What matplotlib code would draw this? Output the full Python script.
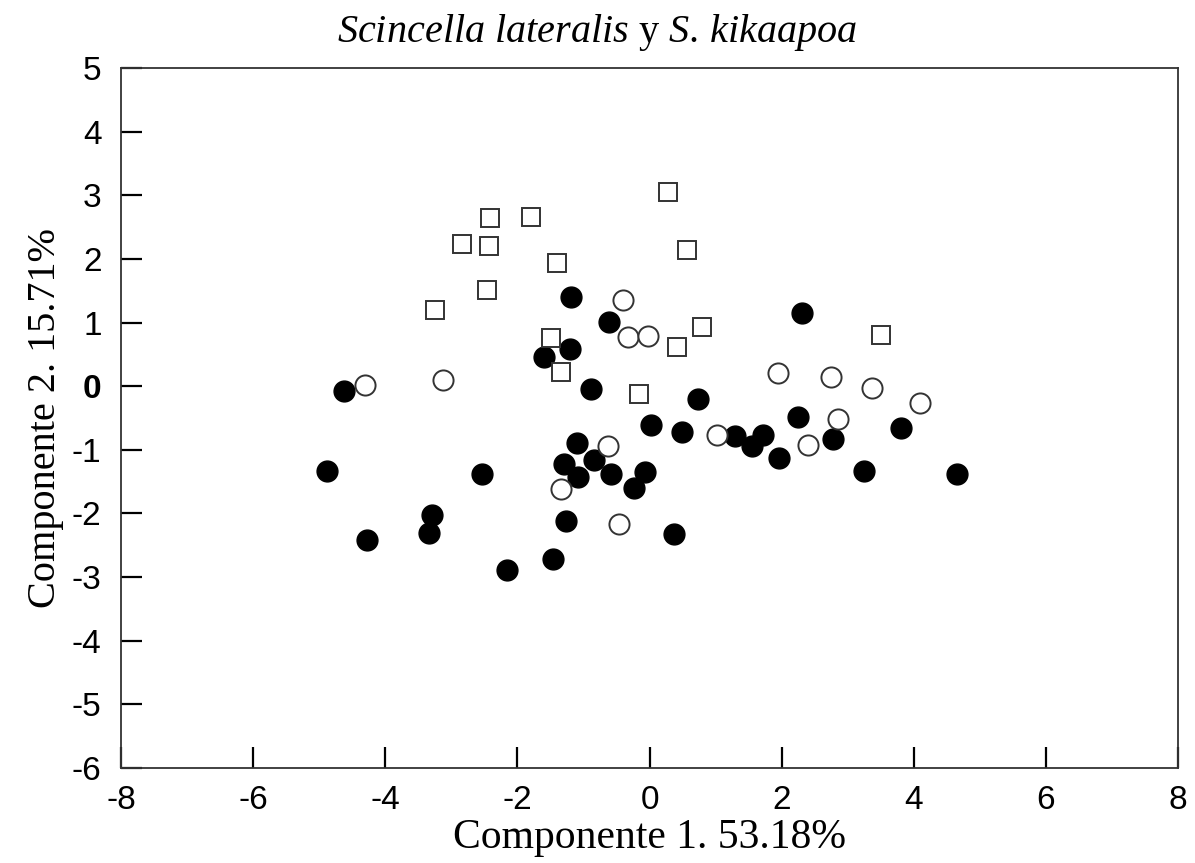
import matplotlib
matplotlib.use('Agg')
import matplotlib.pyplot as plt

plt.rcParams['mathtext.fontset'] = 'custom'
plt.rcParams['mathtext.rm'] = 'Liberation Serif'
plt.rcParams['mathtext.it'] = 'Liberation Serif:italic'
plt.rcParams['axes.unicode_minus'] = False

# grupo 1: cuadros abiertos
sq_x = [0.28, -1.80, -2.42, -2.84, -2.43, 0.57, -1.40, -2.46, -3.25, 3.50, -1.49, 0.80, 0.42, -1.34, -0.16]
sq_y = [3.05, 2.66, 2.64, 2.23, 2.20, 2.14, 1.94, 1.51, 1.20, 0.80, 0.76, 0.93, 0.62, 0.22, -0.12]

# grupo 2: circulos abiertos
oc_x = [-0.40, -0.33, -0.02, -4.30, -3.13, 1.95, 2.74, 3.37, 4.10, 2.86, 1.02, 2.40, -0.63, -1.34, -0.46]
oc_y = [1.35, 0.77, 0.79, 0.02, 0.10, 0.21, 0.14, -0.03, -0.26, -0.52, -0.77, -0.92, -0.94, -1.62, -2.17]

# grupo 3: circulos rellenos
fc_x = [-1.19, -0.61, -1.21, -1.60, 2.31, -4.62, -0.89, 0.74, 0.02, 0.49,
        2.24, 1.72, 1.30, 1.55, 1.96, 2.77, 3.81, 4.65, 3.25, -1.10,
        -1.30, -0.84, -1.08, -0.58, -0.07, -0.24, -4.88, -2.53, -3.30, -3.34,
        -4.28, -1.27, -2.16, -1.46, 0.37]
fc_y = [1.40, 1.01, 0.58, 0.46, 1.15, -0.08, -0.04, -0.20, -0.61, -0.72,
        -0.48, -0.77, -0.78, -0.94, -1.13, -0.83, -0.66, -1.38, -1.33, -0.89,
        -1.22, -1.16, -1.43, -1.38, -1.35, -1.60, -1.33, -1.38, -2.02, -2.31,
        -2.42, -2.12, -2.89, -2.72, -2.32]

xticks = [-8, -6, -4, -2, 0, 2, 4, 6, 8]
yticks = [-6, -5, -4, -3, -2, -1, 0, 1, 2, 3, 4, 5]

fig = plt.figure(figsize=(11.95, 8.63), dpi=100)
ax = fig.add_axes([0.1013, 0.1101, 0.8845, 0.8111])

ax.plot(fc_x, fc_y, 'o', ms=15, mfc='black', mec='black', mew=1)
ax.plot(oc_x, oc_y, 'o', ms=14.5, mfc='white', mec='#333333', mew=1.4)
ax.plot(sq_x, sq_y, 's', ms=13, mfc='white', mec='#333333', mew=1.4)

ax.set_xlim(-8, 8)
ax.set_ylim(-6, 5)
ax.set_xticks(xticks)
ax.set_yticks(yticks)
ax.tick_params(direction='in', length=15, width=1.6, top=False, right=False)
ax.tick_params(axis='x', pad=12)
ax.tick_params(axis='y', pad=14)
for lab in ax.get_xticklabels() + ax.get_yticklabels():
    lab.set_fontfamily('Liberation Sans')
    lab.set_fontsize(24)
for lab in ax.get_yticklabels():
    if lab.get_text() == '0':
        lab.set_fontweight('bold')
for s in ax.spines.values():
    s.set_linewidth(1.3)
    s.set_color('#333333')

ax.set_xlabel('Componente 1. 53.18%', fontfamily='Liberation Serif', fontsize=30, labelpad=2)
ax.set_ylabel('Componente 2. 15.71%', fontfamily='Liberation Serif', fontsize=29, labelpad=6)
fig.text(0.5, 0.962, r'$\mathit{Scincella\ lateralis}$ y $\mathit{S.\,kikaapoa}$',
         fontfamily='Liberation Serif', fontsize=29, ha='center', va='center')

fig.savefig('out.png', dpi=100, facecolor='white')
